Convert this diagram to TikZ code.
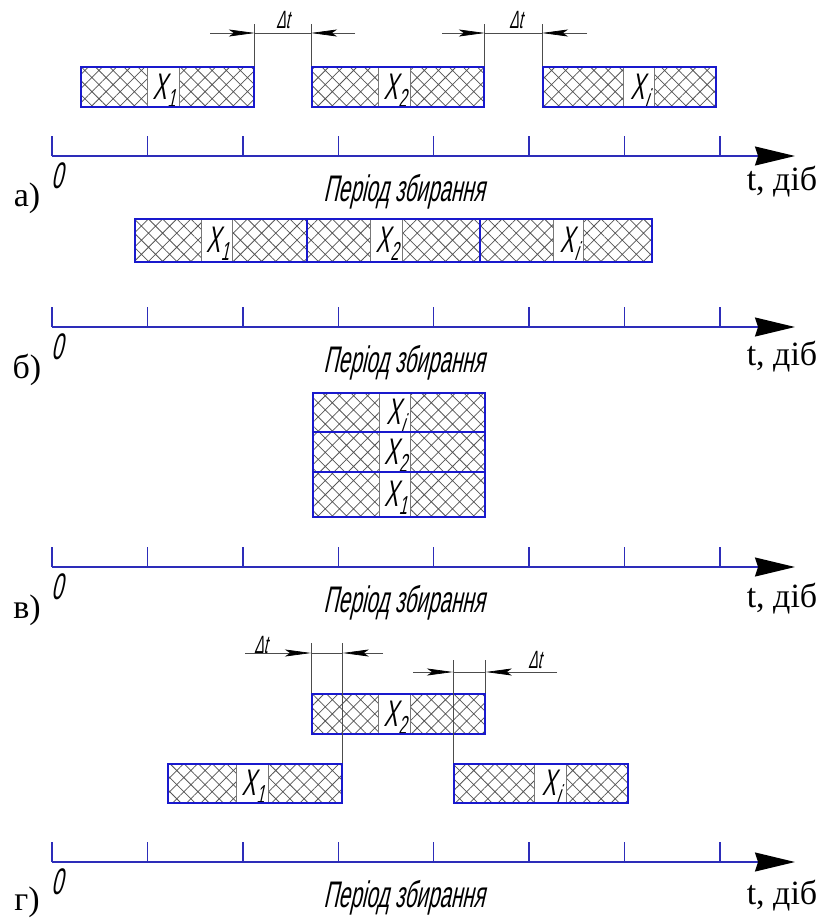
\documentclass[tikz,border=0pt]{standalone}
\usepackage{fontspec}
\setmainfont{Liberation Serif}
\newfontfamily\gost[FakeSlant=0.22,FakeStretch=0.56]{Liberation Sans}
\usetikzlibrary{arrows.meta,patterns.meta}

\definecolor{frameblue}{RGB}{25,25,205}
\definecolor{axisblue}{RGB}{45,45,185}
\definecolor{hatchgray}{RGB}{85,85,85}

\tikzset{
  frame/.style={draw=frameblue,line width=1.8pt,inner sep=0pt,anchor=north west},
  hatched/.style={pattern={Hatch[angle=45,distance=10pt,line width=0.75pt]},pattern color=hatchgray},
  celledge/.style={draw=hatchgray!80,line width=0.7pt},
  xlab/.style={font=\gost\fontsize{37}{37}\selectfont,inner sep=0pt,text height=26pt,text depth=2pt},
  axisline/.style={draw=axisblue,line width=1.4pt,-{Stealth[length=40pt,width=19pt,inset=3pt,color=black]}},
  tickmark/.style={draw=axisblue,line width=1.4pt},
  zerolab/.style={font=\gost\fontsize{37}{37}\selectfont,inner sep=0pt,text height=26pt,text depth=0pt},
  periodlab/.style={font=\gost\fontsize{37}{37}\selectfont,inner sep=0pt,text height=27pt,text depth=7pt},
  unitlab/.style={font=\fontsize{34}{34}\selectfont,inner sep=0pt},
  panellab/.style={font=\fontsize{34}{34}\selectfont,inner sep=0pt},
  dimline/.style={draw=black!70,line width=0.7pt},
  dimarrow/.style={draw=black!70,line width=0.7pt,-{Stealth[length=26pt,width=7pt,inset=5pt,color=black]}},
  dtlab/.style={font=\gost\fontsize{25}{25}\selectfont,inner sep=0pt,text height=18pt,text depth=0pt},
}

% X with a lowered index
\newcommand\xsub[1]{X\kern1pt\raisebox{-8pt}{\fontsize{26}{26}\selectfont#1}}

% hatched bar with a white label cell:
% name, left, top, right, bottom, cell left, cell right, label
\newcommand\datebar[8]{%
  \path[hatched] (#2,#3) rectangle (#4,#5);
  \path[fill=white] (#6,#3) rectangle (#7,#5);
  \draw[celledge] (#6,#3) -- (#6,#5) (#7,#3) -- (#7,#5);
  \node[xlab] (#1-lab) at ({(#6+#7)/2+1},{(#3+#5)/2+1}) {#8};
  \node[frame,minimum width={(#4-#2)*1pt},minimum height={(#5-#3)*1pt}] (#1) at (#2,#3) {};
}

% time axis: name, axis y, offset of the unit label
\newcommand\timeaxis[3]{%
  \coordinate (#1-0) at (52,#2);
  \coordinate (#1-end) at (795,#2);
  \foreach \k in {0,...,7} \draw[tickmark] ({52+95.43*\k},#2) -- ++(0,-20);
  \draw[axisline] (#1-0) -- (#1-end);
  \node[zerolab] (#1-zero) at (57,{#2+19}) {0};
  \node[periodlab] (#1-period) at (404,{#2+35}) {Період збирання};
  \node[unitlab] (#1-unit) at (782,{#2+#3}) {t, діб};
}

\begin{document}
\begin{tikzpicture}[x=1pt,y=-1pt]
\useasboundingbox (0,0) rectangle (820,919);

% ---- а) bars separated by gaps
\datebar{a1}{80}{66}{253}{106}{147}{179}{\xsub1}
\datebar{a2}{311}{66}{483}{106}{378}{410}{\xsub2}
\datebar{a3}{542}{66}{715}{106}{623}{654}{\xsub{\textit{i}}}
\draw[dimline] (a1.north east) -- ++(0,-42);
\draw[dimline] (a2.north west) -- ++(0,-42);
\draw[dimline] (a2.north east) -- ++(0,-42);
\draw[dimline] (a3.north west) -- ++(0,-42);
\coordinate (da1l) at (210,33);
\coordinate (da1r) at (355,33);
\coordinate (da2l) at (442,33);
\coordinate (da2r) at (587,33);
\draw[dimline] (da1l -| a1.north east) -- (da1r -| a2.north west);
\draw[dimarrow] (da1l) -- (da1l -| a1.north east);
\draw[dimarrow] (da1r) -- (da1r -| a2.north west);
\draw[dimline] (da2l -| a2.north east) -- (da2r -| a3.north west);
\draw[dimarrow] (da2l) -- (da2l -| a2.north east);
\draw[dimarrow] (da2r) -- (da2r -| a3.north west);
\node[dtlab] (dta1) at (283,19) {Δt};
\node[dtlab] (dta2) at (516,19) {Δt};
\timeaxis{axa}{156}{26}
\node[panellab] (pa) at (27,198) {а)};

% ---- б) bars one after another
\datebar{b1}{134}{218}{306}{261}{201}{232}{\xsub1}
\datebar{b2}{306}{218}{479}{261}{370}{402}{\xsub2}
\datebar{b3}{479}{218}{651}{261}{553}{583}{\xsub{\textit{i}}}
\timeaxis{axb}{327}{30}
\node[panellab] (pb) at (27,370) {б)};

% ---- в) bars stacked
\datebar{c3}{312}{392}{484}{431}{379}{410}{\xsub{\textit{i}}}
\datebar{c2}{312}{431}{484}{471}{379}{410}{\xsub2}
\datebar{c1}{312}{471}{484}{516}{379}{410}{\xsub1}
\timeaxis{axc}{567}{32}
\node[panellab] (pc) at (27,610) {в)};

% ---- г) overlapping bars
\datebar{d2}{311}{693}{484}{733}{378}{410}{\xsub2}
\datebar{d1}{167}{763}{341}{802}{236}{268}{\xsub1}
\datebar{d3}{453}{763}{627}{802}{534}{566}{\xsub{\textit{i}}}
\draw[dimline] (d2.north west) -- ++(0,-50);
\draw[dimline] (d1.north east) -- ++(0,-120);
\draw[dimline] (d3.north west) -- ++(0,-103);
\draw[dimline] (d2.north east) -- ++(0,-33);
\coordinate (dd1l) at (245,653);
\coordinate (dd1r) at (383,653);
\coordinate (dd2l) at (413,672);
\coordinate (dd2r) at (557,672);
\draw[dimline] (dd1l -| d2.north west) -- (dd1r -| d1.north east);
\draw[dimarrow] (dd1l) -- (dd1l -| d2.north west);
\draw[dimarrow] (dd1r) -- (dd1r -| d1.north east);
\draw[dimline] (dd2l -| d3.north west) -- (dd2r -| d2.north east);
\draw[dimarrow] (dd2l) -- (dd2l -| d3.north west);
\draw[dimarrow] (dd2r) -- (dd2r -| d2.north east);
\node[dtlab] (dtd1) at (261,644) {Δt};
\node[dtlab] (dtd2) at (535,659) {Δt};
\timeaxis{axd}{862}{34}
\node[panellab] (pd) at (27,902) {г)};
\end{tikzpicture}
\end{document}
